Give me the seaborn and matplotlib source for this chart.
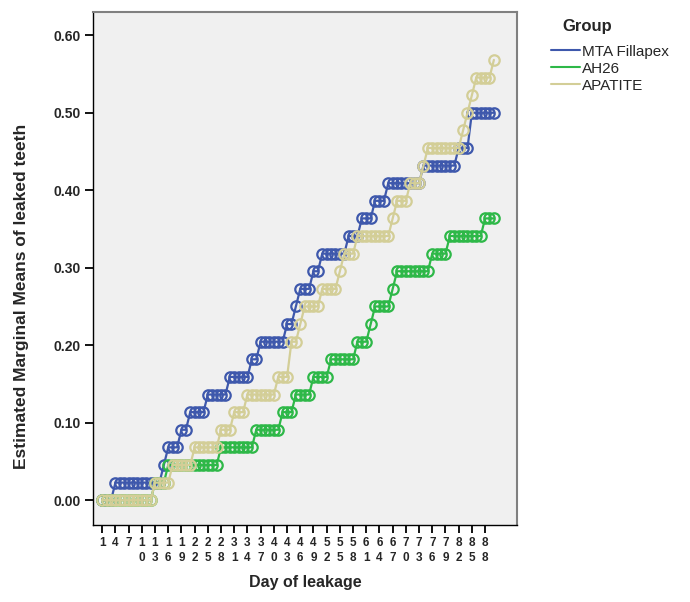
import matplotlib.pyplot as plt
import pandas as pd
import numpy as np
import seaborn as sb
from matplotlib.lines import Line2D

# leaked teeth per group (n = 44) for each day of observation
groups = ['MTA Fillapex', 'AH26', 'APATITE']
colors = ['#3E58AC', '#2EB848', '#D3CE97']
n_teeth = 44
days = list(range(1, 91))

mta = [0, 0, 0, 1, 1, 1, 1, 1, 1, 1,
       1, 1, 1, 1, 2, 3, 3, 3, 4, 4,
       5, 5, 5, 5, 6, 6, 6, 6, 6, 7,
       7, 7, 7, 7, 8, 8, 9, 9, 9, 9,
       9, 9, 10, 10, 11, 12, 12, 12, 13, 13,
       14, 14, 14, 14, 14, 14, 15, 15, 15, 16,
       16, 16, 17, 17, 17, 18, 18, 18, 18, 18,
       18, 18, 18, 19, 19, 19, 19, 19, 19, 19,
       19, 20, 20, 20, 22, 22, 22, 22, 22, 22]

ah26 = [0, 0, 0, 0, 0, 0, 0, 0, 0, 0,
        0, 0, 1, 1, 1, 2, 2, 2, 2, 2,
        2, 2, 2, 2, 2, 2, 2, 3, 3, 3,
        3, 3, 3, 3, 3, 4, 4, 4, 4, 4,
        4, 5, 5, 5, 6, 6, 6, 6, 7, 7,
        7, 7, 8, 8, 8, 8, 8, 8, 9, 9,
        9, 10, 11, 11, 11, 11, 12, 13, 13, 13,
        13, 13, 13, 13, 13, 14, 14, 14, 14, 15,
        15, 15, 15, 15, 15, 15, 15, 16, 16, 16]

apatite = [0, 0, 0, 0, 0, 0, 0, 0, 0, 0,
           0, 0, 1, 1, 1, 1, 2, 2, 2, 2,
           2, 3, 3, 3, 3, 3, 3, 4, 4, 4,
           5, 5, 5, 6, 6, 6, 6, 6, 6, 6,
           7, 7, 7, 9, 9, 10, 11, 11, 11, 11,
           12, 12, 12, 12, 13, 14, 14, 14, 15, 15,
           15, 15, 15, 15, 15, 15, 16, 17, 17, 17,
           18, 18, 18, 19, 20, 20, 20, 20, 20, 20,
           20, 20, 21, 22, 23, 24, 24, 24, 24, 25]

tick_days = list(range(1, 89, 3))
y_ticks = [0.0, 0.1, 0.2, 0.3, 0.4, 0.5, 0.6]

df = pd.DataFrame({
    'day': days * 3,
    'group': np.repeat(groups, len(days)),
    'mean': np.array(mta + ah26 + apatite) / n_teeth,
})

sb.set_style('white')
plt.rcParams['font.family'] = ['Liberation Sans', 'DejaVu Sans']

fig = plt.figure(figsize=(6.9, 6.02), dpi=100)
ax = fig.add_axes([93 / 690, 77 / 602, 424 / 690, 513 / 602])
ax.set_facecolor('#F0F0F0')

for g, c in zip(groups, colors):
    sb.lineplot(data=df[df['group'] == g], x='day', y='mean', color=c,
                marker='o', markersize=7.5, markerfacecolor='none',
                markeredgecolor=c, markeredgewidth=1.6, linewidth=1.6,
                ax=ax, legend=False)

ax.set_xlim(-1.1, 95.25)
ax.set_ylim(-0.032, 0.63)
ax.set_xticks(tick_days)
ax.set_xticklabels(['\n'.join(str(d)) for d in tick_days],
                   fontweight='bold', fontsize=8.5, linespacing=1.3)
ax.set_yticks(y_ticks)
ax.set_yticklabels(['%.2f' % v for v in y_ticks], fontweight='bold', fontsize=10)
ax.tick_params(axis='both', direction='out', length=6, width=1.3,
               color='black', pad=3, bottom=True, left=True)

for s in ['left', 'bottom']:
    ax.spines[s].set_color('black')
    ax.spines[s].set_linewidth(1.0)
for s in ['top', 'right']:
    ax.spines[s].set_color('#808080')
    ax.spines[s].set_linewidth(1.5)

ax.set_xlabel('Day of leakage', fontsize=11.5, fontweight='bold')
ax.set_ylabel('Estimated Marginal Means of leaked teeth', fontsize=12.5, fontweight='bold')
ax.xaxis.set_label_coords(0.5, -0.098)
ax.yaxis.set_label_coords(-0.15, 0.445)

handles = [Line2D([0], [0], color=c, lw=1.5) for c in colors]
fig.text(562 / 690, 1 - 27 / 602, 'Group', fontsize=12, fontweight='bold',
         ha='left', va='center')
fig.legend(handles, groups, loc='upper left', bbox_to_anchor=(540 / 690, 1 - 34 / 602),
           frameon=False, fontsize=11, handlelength=1.9, handletextpad=0.15,
           labelspacing=0.2, borderpad=0.2)

plt.savefig('out.png', dpi=100)
